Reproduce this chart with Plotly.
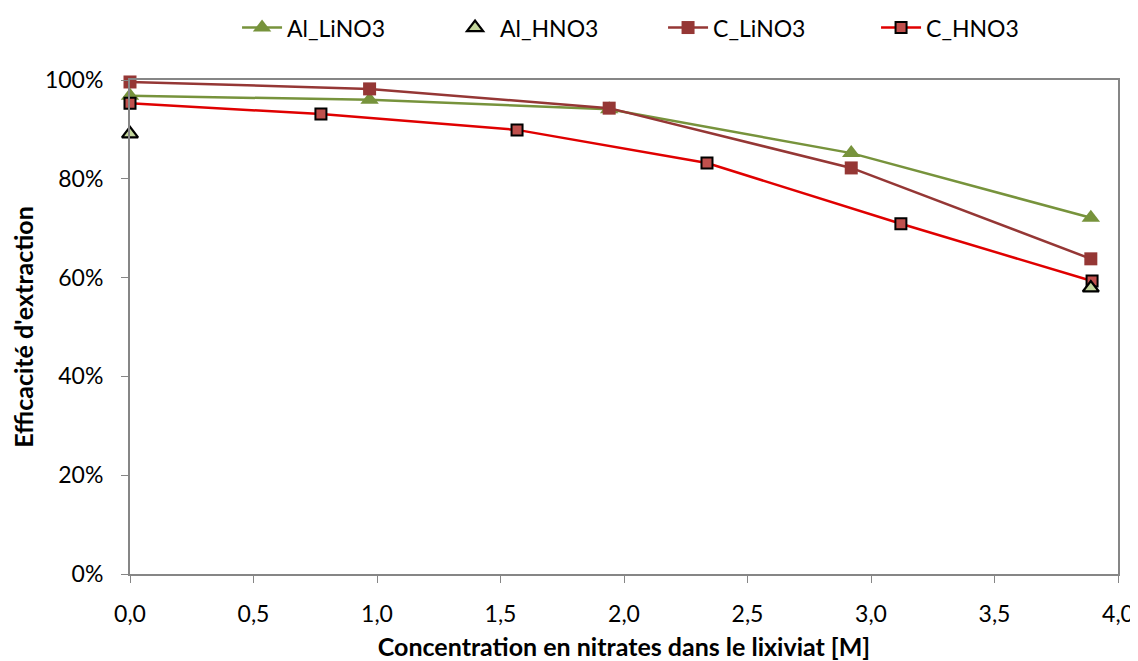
import plotly.graph_objects as go

x_li = [0.0, 0.97, 1.94, 2.92, 3.89]
al_lino3 = [96.8, 96.0, 94.1, 85.2, 72.1]
c_lino3 = [99.6, 98.2, 94.3, 82.2, 63.8]
x_al_hno3 = [0.0, 3.89]
al_hno3 = [89.1, 57.9]
x_c_hno3 = [0.0, 0.773, 1.567, 2.336, 3.121, 3.895]
c_hno3 = [95.3, 93.1, 89.9, 83.2, 70.9, 59.3]

FONT = "Lato"
fig = go.Figure()
fig.add_trace(go.Scatter(x=x_li, y=[v/100 for v in al_lino3], name="Al_LiNO3", mode="lines+markers",
                         line=dict(color="#77933C", width=2.5), cliponaxis=False, legendrank=1,
                         marker=dict(symbol="triangle-up", size=16, color="#77933C")))
fig.add_trace(go.Scatter(x=x_li, y=[v/100 for v in c_lino3], name="C_LiNO3", mode="lines+markers",
                         line=dict(color="#953735", width=2.5), cliponaxis=False, legendrank=3,
                         marker=dict(symbol="square", size=13, color="#953735")))
fig.add_trace(go.Scatter(x=x_c_hno3, y=[v/100 for v in c_hno3], name="C_HNO3", mode="lines+markers",
                         line=dict(color="#E00000", width=2.5), cliponaxis=False, legendrank=4,
                         marker=dict(symbol="square", size=11, color="#C0504D",
                                     line=dict(color="black", width=2))))
fig.add_trace(go.Scatter(x=x_al_hno3, y=[v/100 for v in al_hno3], name="Al_HNO3", mode="markers",
                         cliponaxis=False, legendrank=2,
                         marker=dict(symbol="triangle-up", size=14, color="#C3D69B",
                                     line=dict(color="black", width=2.2))))

# page body has an 8px margin, so the figure is offset by 8px
fig.update_layout(
    width=1130, height=653,
    paper_bgcolor="white", plot_bgcolor="white",
    separators=", ",
    margin=dict(l=122, r=20, t=72, b=87, autoexpand=False),
    font=dict(family=FONT, size=23, color="black"),
    legend=dict(orientation="h", x=0.2027, xanchor="left", y=0.97, yanchor="middle",
                yref="container", xref="container", font=dict(size=23),
                entrywidthmode="pixels", entrywidth=158, itemwidth=40),
    xaxis=dict(range=[0, 4.0], dtick=0.5, tickformat=".1f", showgrid=False, zeroline=False,
               showline=True, linecolor="#868686", linewidth=2, mirror=True, automargin=False,
               ticks="outside", tickcolor="#868686", ticklen=7, ticklabelstandoff=11,
               title=dict(text="<b>Concentration en nitrates dans le lixiviat [M]</b>", font=dict(size=25), standoff=23)),
    yaxis=dict(range=[0, 1.0], dtick=0.2, tickformat=".0%", showgrid=False, zeroline=False,
               showline=True, linecolor="#868686", linewidth=2, mirror=True, automargin=False,
               ticks="outside", tickcolor="#868686", ticklen=7, ticklabelstandoff=13,
               title=dict(text="<b>Efficacité d'extraction</b>", font=dict(size=25), standoff=20)),
)
fig.write_html("out.html")
